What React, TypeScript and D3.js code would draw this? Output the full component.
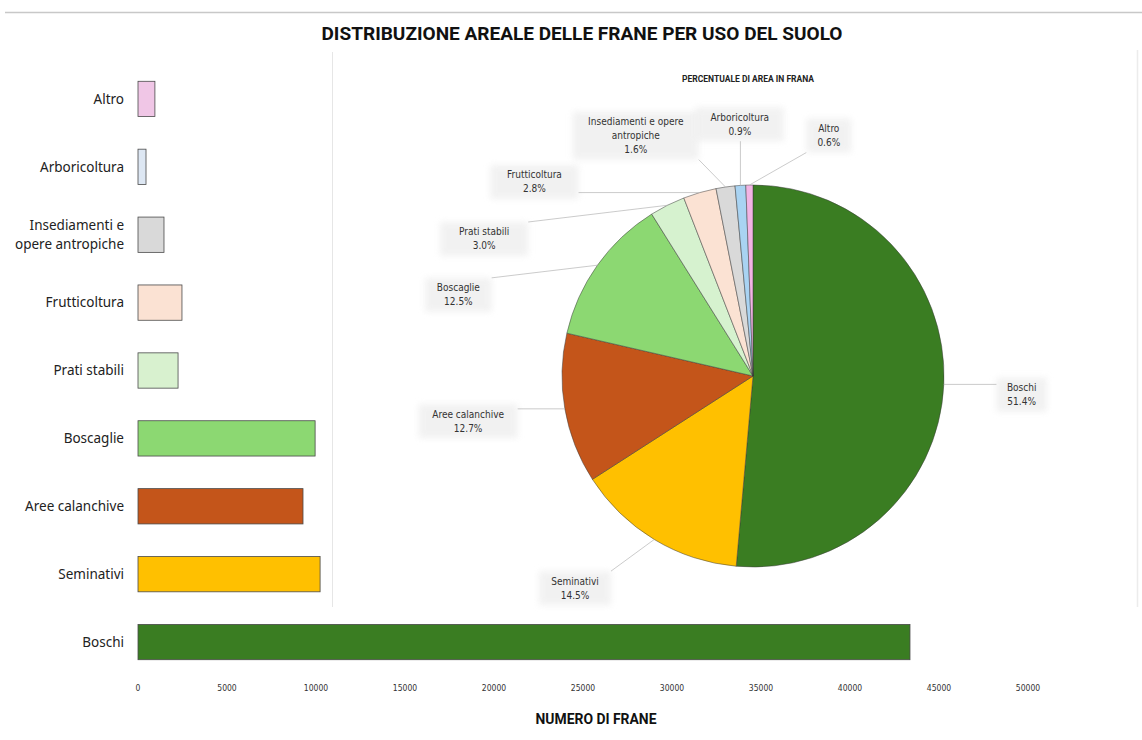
import React from "react";
import * as d3 from "d3";

// ---------- DATA ----------
const barCategories = [
  "Altro",
  "Arboricoltura",
  "Insediamenti e opere antropiche",
  "Frutticoltura",
  "Prati stabili",
  "Boscaglie",
  "Aree calanchive",
  "Seminativi",
  "Boschi",
];
const barValues = [950, 450, 1460, 2470, 2250, 9950, 9270, 10230, 43370];
const barLabelLines = [
  ["Altro"],
  ["Arboricoltura"],
  ["Insediamenti e", "opere antropiche"],
  ["Frutticoltura"],
  ["Prati stabili"],
  ["Boscaglie"],
  ["Aree calanchive"],
  ["Seminativi"],
  ["Boschi"],
];
const xTicks = [0, 5000, 10000, 15000, 20000, 25000, 30000, 35000, 40000, 45000, 50000];

const pieCategories = [
  "Boschi",
  "Seminativi",
  "Aree calanchive",
  "Boscaglie",
  "Prati stabili",
  "Frutticoltura",
  "Insediamenti e opere antropiche",
  "Arboricoltura",
  "Altro",
];
const piePercents = [51.4, 14.5, 12.7, 12.5, 3.0, 2.8, 1.6, 0.9, 0.6];
const pieLabelLines = [
  ["Boschi"],
  ["Seminativi"],
  ["Aree calanchive"],
  ["Boscaglie"],
  ["Prati stabili"],
  ["Frutticoltura"],
  ["Insediamenti e opere", "antropiche"],
  ["Arboricoltura"],
  ["Altro"],
];

// ---------- STYLE / LAYOUT ----------
const barColors: Record<string, string> = {
  Altro: "#f0c6e6",
  Arboricoltura: "#dde7f3",
  "Insediamenti e opere antropiche": "#d9d9d9",
  Frutticoltura: "#fbe2d3",
  "Prati stabili": "#d8f1cf",
  Boscaglie: "#8cd872",
  "Aree calanchive": "#c4551a",
  Seminativi: "#ffc000",
  Boschi: "#3a7d22",
};
const pieColors: Record<string, string> = {
  ...barColors,
  Arboricoltura: "#a9d3f2",
  Altro: "#f2b4e4",
  "Prati stabili": "#d6f2cf",
};
// label placement for pie annotations: angle (deg, clockwise from top) and radius factor
const pieLabelLayout: Record<string, [number, number]> = {
  Boschi: [94, 1.41],
  Seminativi: [220, 1.45],
  "Aree calanchive": [261, 1.51],
  Boscaglie: [285.4, 1.6],
  "Prati stabili": [297, 1.58],
  Frutticoltura: [311.6, 1.53],
  "Insediamenti e opere antropiche": [334, 1.4],
  Arboricoltura: [357, 1.32],
  Altro: [17.5, 1.32],
};

const FONT = "'Noto Sans', 'Open Sans', sans-serif";

export default function App() {
  const W = 1142;
  const H = 740;

  // bar chart
  const x = d3.scaleLinear().domain([0, 50000]).range([138, 1028]);
  const y = d3.scaleBand<string>().domain(barCategories).range([65, 676]).paddingInner(0.48).paddingOuter(0.24);

  // pie chart
  const cx = 753;
  const cy = 376;
  const R = 191;
  const pie = d3
    .pie<number>()
    .sort(null)
    .value((d) => d)
    .startAngle(0)
    .endAngle(2 * Math.PI);
  const arcs = pie(piePercents);
  const arcGen = d3.arc<d3.PieArcDatum<number>>().innerRadius(0).outerRadius(R);

  const polar = (angDeg: number, r: number) => {
    const a = (angDeg * Math.PI) / 180;
    return [cx + r * Math.sin(a), cy - r * Math.cos(a)];
  };

  return (
    <svg width={W} height={H} style={{ display: "block", position: "absolute", left: 0, top: 0 }} fontFamily={FONT}>
      <defs>
        <filter id="soft" x="-20%" y="-30%" width="140%" height="160%">
          <feGaussianBlur stdDeviation="3" />
        </filter>
      </defs>
      <rect x={0} y={0} width={W} height={H} fill="#fff" />
      {/* frame lines */}
      <line x1={5} x2={W} y1={12.5} y2={12.5} stroke="#c8c8c8" strokeWidth={1.5} />
      <line x1={332.5} x2={332.5} y1={52} y2={607} stroke="#e6e6e6" strokeWidth={1} />
      <line x1={1137.5} x2={1137.5} y1={50} y2={607} stroke="#ececec" strokeWidth={1.5} />

      {/* title */}
      <text
        x={582}
        y={40}
        textAnchor="middle"
        fontFamily="Roboto, sans-serif"
        fontWeight={700}
        fontSize={19}
        textLength={521}
        lengthAdjust="spacingAndGlyphs"
        fill="#111"
      >
        DISTRIBUZIONE AREALE DELLE FRANE PER USO DEL SUOLO
      </text>

      {/* bars */}
      {barCategories.map((c, i) => {
        const y0 = y(c)!;
        return (
          <rect
            key={c}
            x={x(0)}
            y={y0}
            width={x(barValues[i]) - x(0)}
            height={y.bandwidth()}
            fill={barColors[c]}
            stroke="#4a4a4a"
            strokeWidth={0.8}
          />
        );
      })}
      {barCategories.map((c, i) => {
        const lines = barLabelLines[i];
        const yc = y(c)! + y.bandwidth() / 2;
        const lh = 19;
        const start = yc - ((lines.length - 1) * lh) / 2;
        return (
          <text key={c} x={124} textAnchor="end" fontSize={13.5} fill="#222">
            {lines.map((l, j) => (
              <tspan key={j} x={124} y={start + j * lh} dy="0.35em">
                {l}
              </tspan>
            ))}
          </text>
        );
      })}
      {/* x ticks */}
      {xTicks.map((t) => (
        <text
          key={t}
          x={x(t)}
          y={688}
          dy="0.35em"
          textAnchor="middle"
          fontSize={8.5}
          fontFamily="'DejaVu Sans Condensed', 'Liberation Sans Narrow', 'Liberation Sans', sans-serif"
          fill="#333"
        >
          {t}
        </text>
      ))}
      <text x={596} y={724} textAnchor="middle" fontFamily="Roboto, sans-serif" fontWeight={700} fontSize={14} fill="#111" textLength={121} lengthAdjust="spacingAndGlyphs">
        NUMERO DI FRANE
      </text>

      {/* pie subtitle */}
      <text x={748} y={79} dy="0.35em" textAnchor="middle" fontFamily="Roboto, sans-serif" fontWeight={700} fontSize={8.5} fill="#222">
        PERCENTUALE DI AREA IN FRANA
      </text>

      {/* pie slices */}
      <g transform={`translate(${cx},${cy})`}>
        {arcs.map((a, i) => (
          <path key={pieCategories[i]} d={arcGen(a)!} fill={pieColors[pieCategories[i]]} stroke="#3a3a3a" strokeWidth={0.5} />
        ))}
      </g>

      {/* pie labels */}
      {arcs.map((a, i) => {
        const c = pieCategories[i];
        const [ang, rf] = pieLabelLayout[c];
        const [lx, ly] = polar(ang, R * rf);
        const lines = pieLabelLines[i];
        const lh = 14;
        const fs = 10;
        const maxLen = d3.max(lines, (l) => l.length)!;
        const bw = maxLen * 5.4 + 18;
        const bh = lines.length * lh + 20;
        const by = ly - bh / 2;
        const bx = lx - bw / 2;
        const mid = ((a.startAngle + a.endAngle) / 2) * (180 / Math.PI);
        const [ex, ey] = polar(mid, R);
        const px = Math.max(bx, Math.min(bx + bw, ex));
        const py = Math.max(by, Math.min(by + bh, ey));
        return (
          <g key={c}>
            <rect x={bx} y={by} width={bw} height={bh} fill="#ececec" opacity={0.7} filter="url(#soft)" />
            <line x1={px} y1={py} x2={ex} y2={ey} stroke="#b5b5b5" strokeWidth={0.7} />
            <text textAnchor="middle" fontSize={fs} fill="#333" fontFamily="'DejaVu Sans Condensed', 'Liberation Sans Narrow', 'Liberation Sans', sans-serif">
              {[...lines, `${piePercents[i].toFixed(1)}%`].map((l, j) => (
                <tspan key={j} x={lx} y={ly - (lines.length * lh) / 2 + j * lh} dy="0.35em">
                  {l}
                </tspan>
              ))}
            </text>
          </g>
        );
      })}
    </svg>
  );
}
